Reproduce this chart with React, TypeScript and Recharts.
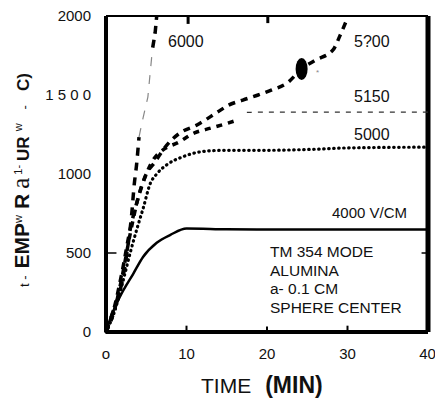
import { LineChart, Line, XAxis, YAxis, ReferenceLine, ReferenceDot } from 'recharts'

/* ─── axis ticks ─── */
const TICKS_X = [0, 10, 20, 30, 40]
const X_LABELS = ['o', '10', '20', '30', '40']
const TICKS_Y = [0, 500, 1000, 1500, 2000]
const Y_LABELS = ['0', '500', '1000', '1 5 0 0', '2000']

/* ─── curves: time (min) / temperature (°C) ─── */
const time4000 = [0, 0.5, 1.7, 3.4, 4.6, 6.3, 8, 10, 15, 20, 30, 40]
const temp4000 = [0, 80, 220, 370, 475, 565, 615, 655, 650, 648, 648, 648]

const time5000 = [0, 1, 2, 3, 4, 4.6, 5.5, 6.3, 7.6, 9.6, 11.7, 14.5, 20, 25, 30, 40]
const temp5000 = [0, 120, 300, 500, 680, 780, 940, 1000, 1060, 1110, 1140, 1150, 1150, 1155, 1165, 1170]

const time5150 = [0, 1, 2, 3, 4, 5, 6, 7, 9, 11, 13, 15, 16.5]
const temp5150 = [0, 130, 350, 620, 850, 1000, 1100, 1150, 1200, 1260, 1290, 1320, 1345]
const time5150b = [17.5, 20, 25, 30, 35, 40]
const temp5150b = [1390, 1392, 1392, 1392, 1392, 1392]

const time5200 = [0, 1, 2, 3, 4, 5, 6, 7.5, 9.2, 11.3, 13.8, 15.2, 17, 18.9, 20.6, 22.5, 24.3, 26, 28.2, 29.1, 29.9]
const temp5200 = [0, 150, 380, 650, 850, 1000, 1070, 1180, 1260, 1310, 1390, 1435, 1468, 1500, 1532, 1576, 1665, 1720, 1785, 1880, 1975]

const time6000 = [0, 1, 2, 2.6, 3.2, 3.5, 3.8, 4.1]
const temp6000 = [0, 150, 320, 500, 750, 930, 1060, 1234]
const time6000b = [4.1, 4.6, 5.2, 5.7]
const temp6000b = [1234, 1354, 1487, 1753]
const time6000c = [5.8, 6.1, 6.3]
const temp6000c = [1800, 1892, 2000]

const zip = (ts: number[], vs: number[]) => ts.map((t, i) => ({ t, v: vs[i] }))

const font = '"Liberation Sans", Arial, sans-serif'
const tick = { fontSize: 15, fill: '#111', fontFamily: font }

const Ellipse = (p: any) => <ellipse cx={p.cx} cy={p.cy} rx={6} ry={11} fill="#000" />

const abs = (left: number, top: number, extra: any = {}) => ({
  position: 'absolute' as const, left, top, fontFamily: font, fontSize: 15, color: '#111',
  lineHeight: '18px', whiteSpace: 'nowrap' as const, ...extra,
})

const seg = (x1: number, y1: number, x2: number, y2: number) => [{ x: x1, y: y1 }, { x: x2, y: y2 }]
const ib = (ml: number, extra: any = {}) => ({ display: 'inline-block', marginLeft: ml, ...extra })

export default function App() {
  return (
    <div style={{ position: 'absolute', left: 0, top: 0, width: 435, height: 401, background: '#fff' }}>
      <LineChart width={435} height={401} margin={{ top: 16, right: 7, left: 40, bottom: 0 }}>
        <XAxis
          type="number" dataKey="t" domain={[0, 40]} ticks={TICKS_X}
          tickFormatter={(v) => X_LABELS[TICKS_X.indexOf(v)]}
          tick={tick} tickSize={0} tickMargin={16} height={69}
          axisLine={{ stroke: '#000', strokeWidth: 4 }}
        />
        <YAxis
          type="number" domain={[0, 2000]} ticks={TICKS_Y}
          tickFormatter={(v) => Y_LABELS[TICKS_Y.indexOf(v)]}
          tick={tick} tickSize={0} tickMargin={15} width={66}
          axisLine={{ stroke: '#000', strokeWidth: 4 }}
        />
        <ReferenceLine x={40} stroke="#000" strokeWidth={5} />
        <ReferenceLine y={2000} stroke="#000" strokeWidth={2} />

        {/* inward tick marks */}
        <ReferenceLine segment={seg(0, 500, 1.3, 500)} stroke="#000" strokeWidth={1.5} />
        <ReferenceLine segment={seg(39.2, 500, 40, 500)} stroke="#000" strokeWidth={1.5} />
        <ReferenceLine segment={seg(10, 0, 10, 40)} stroke="#000" strokeWidth={2} />
        <ReferenceLine segment={seg(20, 0, 20, 35)} stroke="#000" strokeWidth={2} />
        <ReferenceLine segment={seg(30, 0, 30, 40)} stroke="#000" strokeWidth={2} />
        <ReferenceLine segment={seg(10.2, 2000, 10.2, 1950)} stroke="#000" strokeWidth={3} />
        <ReferenceLine segment={seg(20.1, 2000, 20.1, 1955)} stroke="#000" strokeWidth={3} />

        <Line data={zip(time4000, temp4000)} dataKey="v" type="monotone" stroke="#000" strokeWidth={2.5} dot={false} isAnimationActive={false} />
        <Line data={zip(time5000, temp5000)} dataKey="v" type="monotone" stroke="#000" strokeWidth={3.2} strokeDasharray="0.5 4.5" strokeLinecap="round" dot={false} isAnimationActive={false} />
        <Line data={zip(time5150, temp5150)} dataKey="v" type="monotone" stroke="#000" strokeWidth={3.5} strokeDasharray="6 6" dot={false} isAnimationActive={false} />
        <Line data={zip(time5150b, temp5150b)} dataKey="v" type="monotone" stroke="#333" strokeWidth={1.2} strokeDasharray="5 6" dot={false} isAnimationActive={false} />
        <Line data={zip(time5200, temp5200)} dataKey="v" type="monotone" stroke="#000" strokeWidth={3.5} strokeDasharray="7 6" dot={false} isAnimationActive={false} />
        <Line data={zip(time6000, temp6000)} dataKey="v" type="monotone" stroke="#000" strokeWidth={3.5} strokeDasharray="8 7" dot={false} isAnimationActive={false} />
        <Line data={zip(time6000b, temp6000b)} dataKey="v" type="linear" stroke="#888" strokeWidth={1.2} strokeDasharray="9 9" dot={false} isAnimationActive={false} />
        <Line data={zip(time6000c, temp6000c)} dataKey="v" type="linear" stroke="#000" strokeWidth={3.5} strokeDasharray="8 6" dot={false} isAnimationActive={false} />

        <ReferenceDot x={24.3} y={1665} shape={Ellipse} />
      </LineChart>

      {/* curve labels */}
      <div style={abs(168, 33, { fontSize: 16 })}>6000</div>
      <div style={abs(354, 33, { fontSize: 16 })}>5?00</div>
      <div style={abs(354, 88, { fontSize: 16 })}>5150</div>
      <div style={abs(354, 126, { fontSize: 16 })}>5000</div>
      <div style={abs(332, 204, { fontSize: 15 })}>4000 V/CM</div>
      <div style={abs(316, 64, { fontSize: 8, color: '#888' })}>*</div>

      {/* note box */}
      <div style={abs(270, 243, { fontSize: 15.5, lineHeight: '18.5px' })}>
        TM 354 MODE<br />ALUMINA<br />a- 0.1 CM<br />SPHERE CENTER
      </div>

      {/* axis titles */}
      <div style={abs(201, 372, { fontSize: 21, lineHeight: '26px' })}>
        TIME<b style={{ fontSize: 23, marginLeft: 14 }}>(MIN)</b>
      </div>
      <div
        style={abs(18 - 115, 160, {
          width: 230, height: 24, lineHeight: '24px',
          transform: 'rotate(-90deg)', fontSize: 18,
        })}
      >
        <span style={ib(0, { fontSize: 13 })}>t -</span>
        <b style={ib(7, { fontSize: 21 })}>EMP</b>
        <sup style={ib(0, { fontSize: 11 })}>w</sup>
        <b style={ib(6, { fontSize: 21 })}>R</b>
        <span style={ib(5, { fontFamily: 'serif', fontSize: 25 })}>a</span>
        <sup style={ib(3, { fontSize: 11 })}>1-</sup>
        <b style={ib(4, { fontSize: 17 })}>UR</b>
        <sup style={ib(5, { fontSize: 11 })}>w</sup>
        <span style={ib(14, { fontSize: 13 })}>-</span>
        <b style={ib(14, { fontSize: 17 })}>C)</b>
      </div>
    </div>
  )
}
